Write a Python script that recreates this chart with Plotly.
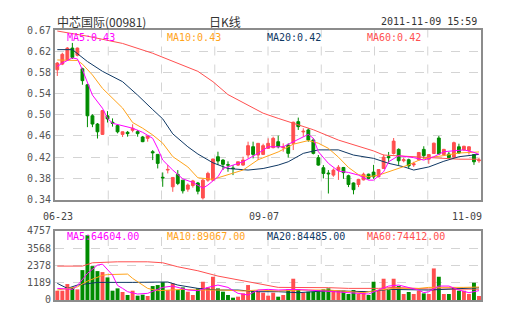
import plotly.graph_objects as go

# ---------------- data ----------------
title_name = "中芯国际(00981)"
title_mid = "日K线"
title_time = "2011-11-09 15:59"

date_labels = ["06-23", "09-07", "11-09"]
date_label_idx = [0, 41, 84]

price_ticktext = ["0.34", "0.38", "0.42", "0.46", "0.50", "0.54", "0.58", "0.62", "0.67"]
price_min, price_max = 0.338, 0.666
vol_tickvals = [0, 1189, 2378, 3568, 4757]
vol_ticktext = ["0", "1189", "2378", "3568", "4757"]

price_ma_labels = ["MA5:0.43", "MA10:0.43", "MA20:0.42", "MA60:0.42"]
vol_ma_labels = ["MA5:64604.00", "MA10:89067.00", "MA20:84485.00", "MA60:74412.00"]

opens = [0.589, 0.600, 0.608, 0.631, 0.617, 0.591, 0.560, 0.500, 0.484, 0.464,
         0.500, 0.4875, 0.481, 0.464, 0.468, 0.4719, 0.4693, 0.459, 0.4564, 0.4305,
         0.4253, 0.381, 0.395, 0.3626, 0.3865, 0.3755, 0.358, 0.365, 0.370, 0.341,
         0.3755, 0.3755, 0.4208, 0.4143, 0.4053, 0.399, 0.4046, 0.4046, 0.4241, 0.4402,
         0.4241, 0.4253, 0.437, 0.4383, 0.4499, 0.4383, 0.4435, 0.4467, 0.4887, 0.4687,
         0.4726, 0.4532, 0.419, 0.3995, 0.3892, 0.3852, 0.3945, 0.400, 0.384, 0.370,
         0.367, 0.376, 0.387, 0.391, 0.382, 0.398, 0.421, 0.427, 0.435, 0.413,
         0.415, 0.405, 0.415, 0.435, 0.416, 0.427, 0.457, 0.425, 0.426, 0.420,
         0.440, 0.434, 0.433, 0.425, 0.413]
highs = [0.604, 0.622, 0.633, 0.641, 0.632, 0.593, 0.562, 0.503, 0.486, 0.511,
         0.509, 0.495, 0.484, 0.4695, 0.4706, 0.4836, 0.4726, 0.461, 0.461, 0.4337,
         0.4253, 0.3904, 0.4046, 0.3807, 0.3949, 0.3755, 0.369, 0.376, 0.372, 0.378,
         0.3917, 0.417, 0.4305, 0.4162, 0.4118, 0.4046, 0.411, 0.4208, 0.4499, 0.4499,
         0.4467, 0.446, 0.4564, 0.4596, 0.4616, 0.4467, 0.4467, 0.4887, 0.4965, 0.4758,
         0.4758, 0.4564, 0.4241, 0.4046, 0.3949, 0.3981, 0.4046, 0.401, 0.386, 0.371,
         0.378, 0.390, 0.388, 0.405, 0.397, 0.425, 0.430, 0.457, 0.437, 0.419,
         0.417, 0.411, 0.430, 0.441, 0.426, 0.448, 0.461, 0.436, 0.430, 0.450,
         0.446, 0.442, 0.441, 0.426, 0.419]
lows = [0.577, 0.598, 0.606, 0.610, 0.615, 0.560, 0.478, 0.478, 0.456, 0.463,
        0.487, 0.479, 0.466, 0.459, 0.4596, 0.468, 0.4596, 0.449, 0.4499, 0.4143,
        0.3981, 0.3626, 0.3885, 0.3529, 0.3658, 0.3496, 0.353, 0.361, 0.348, 0.337,
        0.3723, 0.374, 0.4046, 0.395, 0.3917, 0.3852, 0.403, 0.4033, 0.4176, 0.4176,
        0.4143, 0.424, 0.4363, 0.437, 0.437, 0.4305, 0.4189, 0.4337, 0.4726, 0.4596,
        0.4499, 0.4253, 0.4033, 0.3788, 0.3496, 0.382, 0.376, 0.378, 0.362, 0.348,
        0.362, 0.375, 0.377, 0.378, 0.381, 0.397, 0.408, 0.425, 0.405, 0.410,
        0.398, 0.401, 0.413, 0.417, 0.407, 0.426, 0.425, 0.423, 0.418, 0.418,
        0.426, 0.432, 0.425, 0.405, 0.409]
closes = [0.602, 0.619, 0.631, 0.613, 0.631, 0.568, 0.500, 0.484, 0.469, 0.510,
          0.494, 0.4855, 0.469, 0.469, 0.4655, 0.4758, 0.4655, 0.4499, 0.461, 0.4285,
          0.4079, 0.380, 0.3962, 0.3807, 0.3691, 0.3548, 0.366, 0.374, 0.354, 0.3755,
          0.3885, 0.4163, 0.4124, 0.406, 0.4046, 0.398, 0.411, 0.4143, 0.4422, 0.4253,
          0.4467, 0.4422, 0.4467, 0.4564, 0.4402, 0.4395, 0.4273, 0.4875, 0.479, 0.470,
          0.4532, 0.4273, 0.4046, 0.3885, 0.3878, 0.3949, 0.4005, 0.390, 0.367, 0.357,
          0.377, 0.387, 0.379, 0.382, 0.396, 0.420, 0.419, 0.451, 0.413, 0.415,
          0.403, 0.407, 0.429, 0.423, 0.425, 0.447, 0.426, 0.435, 0.419, 0.448,
          0.428, 0.441, 0.440, 0.411, 0.4145]
volumes = [641, 641, 1099, 870, 733, 2061, 4466, 2336, 1992, 1924,
           1557, 641, 801, 550, 344, 641, 298, 366, 275, 962,
           1030, 1230, 687, 1145, 687, 870, 573, 344, 801, 1259,
           870, 1603, 801, 573, 344, 160, 229, 458, 1030, 641,
           573, 504, 298, 504, 229, 344, 733, 1466, 733, 504,
           573, 573, 687, 733, 801, 641, 641, 641, 412, 687,
           412, 573, 344, 1259, 687, 1466, 687, 1466, 962, 412,
           550, 412, 641, 458, 412, 2176, 1603, 412, 412, 870,
           641, 641, 412, 1191, 275]

# price moving averages (index, value)
ma5_idx = [0, 1, 3, 4, 5, 6, 7, 9, 10, 11, 13, 15, 17, 19, 20, 21, 23, 25, 27, 29,
           30, 32, 33, 35, 37, 40, 42, 45, 47, 49, 50, 51, 52, 54, 56, 58, 60, 62, 63,
           65, 66, 68, 71, 73, 75, 77, 79, 81, 83, 84]
ma5_val = [0.5955, 0.602, 0.612, 0.610, 0.589, 0.563, 0.540, 0.5146, 0.4952, 0.4855,
           0.481, 0.476, 0.468, 0.4564, 0.437, 0.4143, 0.3949, 0.378, 0.371, 0.360,
           0.366, 0.382, 0.398, 0.4046, 0.411, 0.4273, 0.440, 0.440, 0.450, 0.4596,
           0.464, 0.4564, 0.4305, 0.408, 0.393, 0.3904, 0.3852, 0.3755, 0.3755,
           0.3917, 0.411, 0.4228, 0.419, 0.4143, 0.4208, 0.4305, 0.4318, 0.434, 0.4292, 0.4253]
ma10_idx = [0, 4, 5, 7, 9, 13, 15, 17, 19, 21, 23, 26, 28, 31, 34, 37, 40, 44, 47, 50,
            52, 54, 56, 58, 60, 62, 64, 66, 68, 70, 72, 74, 77, 80, 84]
ma10_val = [0.608, 0.607, 0.600, 0.579, 0.553, 0.515, 0.487, 0.476, 0.463, 0.447,
            0.421, 0.401, 0.380, 0.377, 0.386, 0.395, 0.415, 0.430, 0.445, 0.452,
            0.447, 0.437, 0.420, 0.400, 0.386, 0.382, 0.385, 0.392, 0.398, 0.405,
            0.414, 0.419, 0.423, 0.428, 0.430]
ma20_idx = [0, 3, 6, 9, 13, 16, 19, 21, 23, 26, 28, 31, 34, 38, 41, 44, 46, 49, 52,
            56, 59, 63, 66, 69, 71, 74, 77, 80, 84]
ma20_val = [0.628, 0.628, 0.605, 0.586, 0.566, 0.540, 0.512, 0.494, 0.465, 0.440,
            0.426, 0.409, 0.398, 0.395, 0.398, 0.4046, 0.411, 0.4273, 0.434, 0.434,
            0.424, 0.4176, 0.408, 0.4014, 0.395, 0.401, 0.412, 0.4208, 0.4253]
ma60_idx = [0, 6, 13, 19, 28, 31, 34, 38, 41, 44, 48, 51, 56, 59, 63, 65, 70, 75, 80, 84]
ma60_val = [0.664, 0.654, 0.640, 0.621, 0.586, 0.566, 0.541, 0.521, 0.505, 0.495,
            0.482, 0.473, 0.453, 0.4435, 0.432, 0.424, 0.421, 0.418, 0.416, 0.416]

# volume moving averages (index, value)
vma5_idx = [0, 3, 4, 6, 8, 9, 11, 12, 13, 14, 16, 18, 20, 21, 23, 26, 28, 30, 32, 34,
            36, 38, 40, 42, 44, 47, 50, 52, 54, 58, 62, 64, 66, 68, 70, 72, 73, 74, 76,
            78, 80, 82, 84]
vma5_val = [801, 733, 1000, 1832, 2405, 2473, 1718, 1000, 801, 573, 412, 458, 733, 870,
            962, 687, 641, 870, 1030, 870, 458, 344, 687, 733, 687, 733, 687, 641, 641,
            504, 412, 687, 962, 1030, 870, 687, 504, 573, 962, 962, 687, 504, 646]
vma10_idx = [0, 4, 6, 9, 10, 14, 15, 18, 20, 22, 25, 28, 33, 37, 40, 44, 48, 54, 58,
             61, 64, 67, 72, 74, 81, 84]
vma10_val = [687, 900, 1300, 1700, 1750, 1786, 1489, 801, 641, 687, 733, 687, 687, 620,
             687, 620, 687, 687, 560, 504, 687, 801, 801, 870, 870, 891]
vma20_idx = [0, 2, 4, 8, 15, 22, 24, 28, 32, 36, 40, 44, 48, 52, 54, 62, 64, 66, 74, 80, 84]
vma20_val = [1145, 801, 1030, 1214, 1214, 1240, 1030, 801, 687, 687, 573, 573, 504, 573,
             641, 573, 641, 733, 687, 801, 845]
vma60_idx = [0, 5, 7, 12, 18, 21, 24, 28, 32, 36, 40, 44, 54, 58, 64, 67, 74, 84]
vma60_val = [2336, 2336, 2565, 2633, 2633, 2565, 2290, 2015, 1649, 1374, 1099, 870, 850,
             801, 801, 870, 760, 744]

# ---------------- styles ----------------
RED = "#ff4f4f"
GREEN = "#008c00"
MAGENTA = "#ff00ff"
ORANGE = "#ffa31a"
NAVY = "#0f3864"
MA60C = "#ff5050"
FRAME = "#8c8c8c"
GRID = "#d4d4d4"
MONO = "DejaVu Sans Mono, Liberation Mono, monospace"
CJK = "Noto Sans CJK SC, DejaVu Sans Mono, sans-serif"

idx = list(range(len(closes)))
vol_colors = [RED if c >= o else GREEN for o, c in zip(opens, closes)]

fig = go.Figure()
fig.add_trace(go.Candlestick(
    x=idx, open=opens, high=highs, low=lows, close=closes,
    increasing=dict(line=dict(color=RED, width=1), fillcolor=RED),
    decreasing=dict(line=dict(color=GREEN, width=1), fillcolor=GREEN),
    whiskerwidth=0, xaxis="x", yaxis="y", showlegend=False, hoverinfo="skip"))

for xs, ys, col in [(ma60_idx, ma60_val, MA60C), (ma20_idx, ma20_val, NAVY),
                    (ma10_idx, ma10_val, ORANGE), (ma5_idx, ma5_val, MAGENTA)]:
    fig.add_trace(go.Scatter(x=xs, y=ys, mode="lines", line=dict(color=col, width=1),
                             xaxis="x", yaxis="y", showlegend=False, hoverinfo="skip"))

fig.add_trace(go.Bar(x=idx, y=volumes, marker=dict(color=vol_colors, line=dict(width=0)),
                     width=0.78, xaxis="x2", yaxis="y2", showlegend=False, hoverinfo="skip"))
for xs, ys, col in [(vma60_idx, vma60_val, MA60C), (vma20_idx, vma20_val, NAVY),
                    (vma10_idx, vma10_val, ORANGE), (vma5_idx, vma5_val, MAGENTA)]:
    fig.add_trace(go.Scatter(x=xs, y=ys, mode="lines", line=dict(color=col, width=1),
                             xaxis="x2", yaxis="y2", showlegend=False, hoverinfo="skip"))

n = len(closes)
xr = [-0.46, n - 0.6]
ptick = [price_min + (price_max - price_min) * k / (len(price_ticktext) - 1)
         for k in range(len(price_ticktext))]

axis_common = dict(showline=True, mirror=True, linecolor=FRAME, linewidth=2,
                   zeroline=False, fixedrange=True)
fig.update_layout(
    width=505, height=330,
    margin=dict(l=55, r=24, t=30, b=30),
    paper_bgcolor="white", plot_bgcolor="white",
    boxgap=0.2,
    bargap=0.2,
    xaxis=dict(domain=[0, 1], range=xr, anchor="y", showgrid=False, showticklabels=False,
               rangeslider=dict(visible=False), ticks="", **axis_common),
    yaxis=dict(domain=[0.3722, 1], range=[price_min, price_max], anchor="x",
               tickvals=ptick, ticktext=price_ticktext, showgrid=True, gridcolor=GRID,
               griddash="dash", gridwidth=1, ticks="",
               tickfont=dict(family=MONO, size=10, color="#555555"), **axis_common),
    xaxis2=dict(domain=[0, 1], range=xr, anchor="y2", showgrid=False, showticklabels=False,
                ticks="", **axis_common),
    yaxis2=dict(domain=[0, 0.2556], range=[0, vol_tickvals[-1]], anchor="x2",
                tickvals=vol_tickvals, ticktext=vol_ticktext, showgrid=True, gridcolor=GRID,
                griddash="dash", gridwidth=1, ticks="",
                tickfont=dict(family=MONO, size=10, color="#555555"), **axis_common),
)

shapes = []
for yref in ["y", "y2"]:
    xref = "x" if yref == "y" else "x2"
    for k in range(1, 8):
        shapes.append(dict(type="line", xref=xref + " domain", yref=yref + " domain",
                           x0=k / 8, x1=k / 8, y0=0, y1=1, layer="below",
                           line=dict(color=GRID, width=1, dash="dash")))
fig.update_layout(shapes=shapes)

ann = []
ann.append(dict(text=title_name, xref="paper", yref="paper", x=0, y=1.033,
                xanchor="left", yanchor="middle", showarrow=False,
                font=dict(family=CJK, size=12, color="#333333")))
ann.append(dict(text=title_mid, xref="paper", yref="paper", x=0.399, y=1.033,
                xanchor="center", yanchor="middle", showarrow=False,
                font=dict(family=CJK, size=12, color="#333333")))
ann.append(dict(text=title_time, xref="paper", yref="paper", x=0.995, y=1.033,
                xanchor="right", yanchor="middle", showarrow=False,
                font=dict(family=MONO, size=10, color="#333333")))
for lab, xi in zip(date_labels, date_label_idx):
    anchor = "center"
    shift = 1
    if xi == date_label_idx[-1]:
        anchor, shift = "right", 5
    ann.append(dict(text=lab, xref="x", yref="paper", x=xi, y=0.311, xanchor=anchor,
                    xshift=shift, yanchor="middle", showarrow=False,
                    font=dict(family=MONO, size=10, color="#444444")))
ma_colors = [MAGENTA, ORANGE, NAVY, MA60C]
for k, (lab, col) in enumerate(zip(price_ma_labels, ma_colors)):
    ann.append(dict(text=lab, xref="paper", yref="paper", x=(10 + 100 * k) / 426, y=0.974,
                    xanchor="left", yanchor="middle", showarrow=False,
                    font=dict(family=MONO, size=10, color=col)))
for k, (lab, col) in enumerate(zip(vol_ma_labels, ma_colors)):
    ann.append(dict(text=lab, xref="paper", yref="paper", x=(10 + 100 * k) / 426, y=0.237,
                    xanchor="left", yanchor="middle", showarrow=False,
                    font=dict(family=MONO, size=10, color=col)))
fig.update_layout(annotations=ann)

fig.write_html("out.html")
